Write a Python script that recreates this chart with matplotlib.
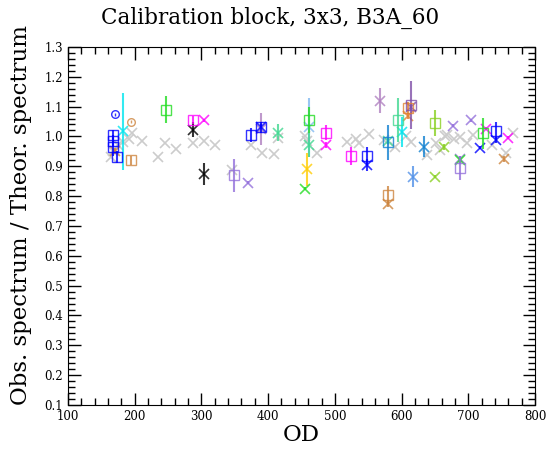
import matplotlib
matplotlib.use("Agg")
import matplotlib.pyplot as plt
from matplotlib.ticker import MultipleLocator, FormatStrFormatter

plt.rcParams['font.family'] = ['DejaVu Serif']

# background (gray) ratios
gray_od = [165, 168, 175, 182, 191, 196, 211, 235, 245, 262, 287, 304, 320, 346, 374,
           391, 409, 415, 455, 458, 473, 518, 531, 536, 551, 573, 590, 607, 614, 638,
           652, 658, 665, 668, 679, 688, 698, 707, 735, 757, 767]
gray_val = [0.93, 0.95, 0.97, 0.982, 0.99, 1.012, 0.985, 0.931, 0.978, 0.958, 0.978, 0.985,
            0.971, 0.888, 0.971, 0.945, 0.941, 0.995, 1.0, 0.985, 0.945, 0.982, 0.992, 0.978,
            1.008, 0.988, 0.965, 1.0, 0.98, 0.938, 0.978, 0.955, 1.0, 1.005, 0.99, 0.998,
            0.978, 1.005, 0.971, 0.945, 1.012]

# square markers
sq_od = [168, 168, 168, 174, 194, 247, 287, 349, 374, 390, 461, 487, 524, 548, 580, 580,
         595, 610, 614, 650, 688, 722, 741]
sq_val = [1.005, 0.985, 0.965, 0.93, 0.92, 1.09, 1.055, 0.87, 1.005, 1.03, 1.055, 1.012,
          0.935, 0.935, 0.98, 0.805, 1.055, 1.095, 1.105, 1.045, 0.895, 1.01, 1.018]
sq_err = [0.015, 0.02, 0.03, 0.02, 0.015, 0.045, 0.015, 0.055, 0.022, 0.02, 0.045, 0.025,
          0.03, 0.03, 0.058, 0.03, 0.075, 0.02, 0.08, 0.045, 0.04, 0.052, 0.03]

# x markers
x_od = [170, 182, 287, 304, 304, 370, 390, 390, 415, 461, 461, 458, 455, 487, 548, 568,
        580, 580, 600, 610, 614, 617, 634, 650, 664, 677, 688, 688, 704, 718, 727, 741,
        754, 760]
x_val = [0.95, 1.017, 1.022, 1.055, 0.875, 0.845, 1.025, 1.03, 1.012, 1.03, 0.97, 0.89,
         0.825, 0.97, 0.905, 1.12, 0.985, 0.775, 1.015, 1.07, 1.1, 0.865, 0.965, 0.865,
         0.965, 1.035, 0.925, 0.92, 1.055, 0.962, 1.025, 0.988, 0.925, 0.995]
x_err = [0.01, 0.13, 0.025, 0.005, 0.037, 0.005, 0.055, 0.01, 0.028, 0.1, 0.04, 0.055,
         0.005, 0.01, 0.02, 0.043, 0.01, 0.01, 0.05, 0.01, 0.01, 0.035, 0.035, 0.005,
         0.01, 0.005, 0.01, 0.01, 0.005, 0.005, 0.005, 0.01, 0.01, 0.005]

# circle markers
c_od = [170, 194]
c_val = [1.075, 1.05]
c_err = [0.005, 0.005]

# colours
BLUE, PERU, CYAN, LIME, MAG, BLK = '#0000ff', '#cd853f', '#00e5ee', '#22dd22', '#ff00ff', '#000000'
MPUR, PLUM, SEA, GOLD, LBLUE = '#9370db', '#b080c0', '#40d890', '#ffcc00', '#80b8f0'
CORN, STEEL, PURP, ORNG, YGRN = '#5090e8', '#1080d0', '#8050a8', '#e08030', '#88d020'
sq_col = [BLUE, BLUE, BLUE, BLUE, PERU, LIME, MAG, MPUR, BLUE, BLUE, LIME, MAG, MAG, BLUE,
          STEEL, PERU, SEA, ORNG, PURP, YGRN, MPUR, LIME, BLUE]
x_col = [PERU, CYAN, BLK, MAG, BLK, MPUR, PLUM, BLUE, SEA, LBLUE, SEA, GOLD, LIME, MAG,
         BLUE, PLUM, SEA, PERU, CYAN, ORNG, PURP, CORN, STEEL, YGRN, YGRN, MPUR, MPUR,
         LIME, MPUR, BLUE, MAG, BLUE, PERU, MAG]
c_col = [BLUE, PERU]

fig, ax = plt.subplots(figsize=(5.51, 4.51), dpi=100)
fig.subplots_adjust(left=0.1234, right=0.971, bottom=0.102, top=0.896)

ax.plot(gray_od, gray_val, 'x', color='#cccccc', ms=6.5, mew=1.2, zorder=1)

for o, v, e, c in zip(x_od, x_val, x_err, x_col):
    ax.errorbar(o, v, yerr=e, fmt='x', color=c, ms=6.5, mew=1.2, elinewidth=1.5,
                capsize=0, alpha=0.8, zorder=2)
for o, v, e, c in zip(sq_od, sq_val, sq_err, sq_col):
    ax.errorbar(o, v, yerr=e, fmt='s', color=c, mfc='none', ms=6.5, mew=1.0,
                elinewidth=1.5, capsize=0, alpha=0.8, zorder=3)
for o, v, e, c in zip(c_od, c_val, c_err, c_col):
    ax.errorbar(o, v, yerr=e, fmt='o', color=c, mfc='none', ms=5.5, mew=1.0,
                elinewidth=1.0, capsize=0, alpha=0.8, zorder=3)

ax.set_xlim(100, 800)
ax.set_ylim(0.1, 1.3)
ax.xaxis.set_major_locator(MultipleLocator(100))
ax.xaxis.set_minor_locator(MultipleLocator(20))
ax.yaxis.set_major_locator(MultipleLocator(0.1))
ax.yaxis.set_minor_locator(MultipleLocator(0.02))
ax.yaxis.set_major_formatter(FormatStrFormatter('%.1f'))
ax.tick_params(which='both', direction='in', top=True, right=True, labelsize=8.5)
ax.tick_params(which='major', length=9, width=1)
ax.tick_params(which='minor', length=5, width=1)

ax.set_xlabel('OD', fontsize=16.5, labelpad=1)
ax.set_ylabel('Obs. spectrum / Theor. spectrum', fontsize=16.5)
ax.yaxis.set_label_coords(-0.078, 0.53)
fig.text(0.49, 0.96, 'Calibration block, 3x3, B3A_60', fontsize=15.5,
         ha='center', va='center')

fig.savefig('out.png', dpi=100)
